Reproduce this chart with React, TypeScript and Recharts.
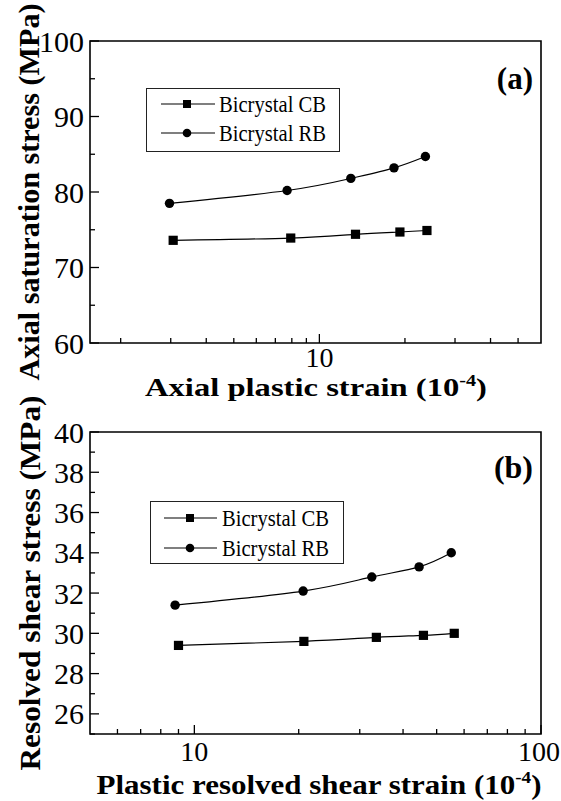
import React from 'react';
import { LineChart, Line, XAxis, YAxis, ReferenceArea, Legend, Label } from 'recharts';

const FONT = "'Liberation Serif', 'Times New Roman', Times, serif";

// ---------- data ----------
const seriesNames = ['Bicrystal CB', 'Bicrystal RB'];

// panel (a)
const axialStrainCB = [3.06, 7.93, 13.4, 19.2, 23.9];
const axialStressCB = [73.6, 73.9, 74.4, 74.7, 74.9];
const axialStrainRB = [2.97, 7.7, 12.9, 18.3, 23.6];
const axialStressRB = [78.5, 80.2, 81.8, 83.2, 84.7];

// panel (b)
const shearStrainCB = [9.0, 20.7, 33.5, 45.8, 56.2];
const shearStressCB = [29.4, 29.6, 29.8, 29.9, 30.0];
const shearStrainRB = [8.8, 20.6, 32.5, 44.5, 55.1];
const shearStressRB = [31.4, 32.1, 32.8, 33.3, 34.0];

// ticks
const axialXDomain: [number, number] = [1.56, 60.2];
const axialXTicks = [2, 3, 4, 5, 6, 7, 8, 9, 10, 20, 30, 40, 50];
const axialXLabels = [10];
const axialYDomain: [number, number] = [60, 100];
const axialYTicks = [60, 65, 70, 75, 80, 85, 90, 95, 100];
const axialYLabels = [60, 70, 80, 90, 100];

const shearXDomain: [number, number] = [5, 100];
const shearXTicks = [6, 7, 8, 9, 10, 20, 30, 40, 50, 60, 70, 80, 90, 100];
const shearXLabels = [10, 100];
const shearYDomain: [number, number] = [25, 40];
const shearYTicks = [25, 26, 27, 28, 29, 30, 31, 32, 33, 34, 35, 36, 37, 38, 39, 40];
const shearYLabels = [26, 28, 30, 32, 34, 36, 38, 40];

type Pt = { x: number; y: number };
const zip = (xs: number[], ys: number[]): Pt[] => xs.map((x, i) => ({ x, y: ys[i] }));

const PLOT_LEFT = 90;
const PLOT_RIGHT = 541;
const WIDTH = 561;

// ---------- helpers ----------
const makeXTick = (labels: number[], fs: number, dy: number) => (props: any) => {
  const { x, y, payload } = props;
  const v = payload.value;
  const major = labels.includes(v);
  const half = (String(v).length * fs * 0.5) / 2;
  const tx = Math.min(x, WIDTH - 1 - half);
  return (
    <g>
      <line x1={x} x2={x} y1={y} y2={y - (major ? 9 : 5)} stroke="#000" strokeWidth={1.3} />
      {major && (
        <text x={tx} y={y + dy} textAnchor="middle" fontFamily={FONT} fontSize={fs} fill="#000">
          {v}
        </text>
      )}
    </g>
  );
};

const makeYTick = (labels: number[], fs: number) => (props: any) => {
  const { x, y, payload } = props;
  const v = payload.value;
  const major = labels.includes(v);
  return (
    <g>
      <line x1={x} x2={x + (major ? 9 : 5)} y1={y} y2={y} stroke="#000" strokeWidth={1.3} />
      {major && (
        <text x={x - 6} y={y} dy="0.35em" textAnchor="end" fontFamily={FONT} fontSize={fs} fill="#000">
          {v}
        </text>
      )}
    </g>
  );
};

const SquareDot = (p: any) => {
  if (p.cx == null || p.cy == null) return <g key={p.key} />;
  return <rect key={p.key} x={p.cx - 4.6} y={p.cy - 4.6} width={9.2} height={9.2} fill="#000" />;
};

const LegendBox = ({ w, h, rowY, lineX1, lineX2, markX, textX, textLen }: any) => (
  <svg width={w} height={h} style={{ display: 'block' }}>
    <rect x={0.5} y={0.5} width={w - 1} height={h - 1} fill="#fff" stroke="#222" strokeWidth={1} />
    {seriesNames.map((name, i) => (
      <g key={name}>
        <line x1={lineX1} x2={lineX2} y1={rowY[i]} y2={rowY[i]} stroke="#000" strokeWidth={1.1} />
        {i === 0 ? (
          <rect x={markX - 4} y={rowY[i] - 4} width={8} height={8} fill="#000" />
        ) : (
          <circle cx={markX} cy={rowY[i]} r={4.3} fill="#000" />
        )}
        <text
          x={textX}
          y={rowY[i]}
          dy="0.35em"
          fontFamily={FONT}
          fontSize={23}
          fill="#000"
          textLength={textLen[i]}
          lengthAdjust="spacingAndGlyphs"
        >
          {name}
        </text>
      </g>
    ))}
  </svg>
);

type PanelProps = {
  height: number;
  marginTop: number;
  xAxisHeight: number;
  xDomain: [number, number];
  yDomain: [number, number];
  xTicks: number[];
  xLabels: number[];
  yTicks: number[];
  yLabels: number[];
  cb: Pt[];
  rb: Pt[];
  xTitle: string;
  xTitleSize: number;
  xTitleDy: number;
  xTitleLen: number;
  xTitleCx: number;
  xTickDy: number;
  xTickSize: number;
  yTitle: string;
  yTitleSize: number;
  yTitleLen: number;
  tag: string;
  tagSize: number;
  tagDy: number;
  legend: any;
  tickSize: number;
};

function Panel(p: PanelProps) {
  const plotBottom = p.height - p.xAxisHeight;
  const plotMidY = (p.marginTop + plotBottom) / 2;
  return (
    <LineChart
      width={WIDTH}
      height={p.height}
      margin={{ top: p.marginTop, right: WIDTH - PLOT_RIGHT, bottom: 0, left: 0 }}
    >
      <XAxis
        dataKey="x"
        type="number"
        scale="log"
        domain={p.xDomain}
        allowDataOverflow
        ticks={p.xTicks}
        interval={0}
        height={p.xAxisHeight}
        axisLine={false}
        tickLine={false}
        tickSize={0}
        tickMargin={0}
        tick={makeXTick(p.xLabels, p.xTickSize, p.xTickDy)}
      >
        <Label
          content={() => (
            <text
              x={p.xTitleCx}
              y={plotBottom + p.xTitleDy}
              textAnchor="middle"
              fontFamily={FONT}
              fontWeight="bold"
              fontSize={p.xTitleSize}
              fill="#000"
              textLength={p.xTitleLen}
              lengthAdjust="spacingAndGlyphs"
            >
              {p.xTitle}
              <tspan fontSize={p.xTitleSize * 0.62} dy={-p.xTitleSize * 0.38}>
                -4
              </tspan>
              <tspan dy={p.xTitleSize * 0.38}>)</tspan>
            </text>
          )}
        />
      </XAxis>
      <YAxis
        type="number"
        domain={p.yDomain}
        ticks={p.yTicks}
        interval={0}
        width={PLOT_LEFT}
        axisLine={false}
        tickLine={false}
        tickSize={0}
        tickMargin={0}
        tick={makeYTick(p.yLabels, p.tickSize)}
      >
        <Label
          content={() => (
            <text
              x={29}
              y={plotMidY}
              transform={`rotate(-90 29 ${plotMidY})`}
              textAnchor="middle"
              dominantBaseline="central"
              fontFamily={FONT}
              fontWeight="bold"
              fontSize={p.yTitleSize}
              fill="#000"
              textLength={p.yTitleLen}
              lengthAdjust="spacingAndGlyphs"
            >
              {p.yTitle}
            </text>
          )}
        />
      </YAxis>
      <ReferenceArea
        x1={p.xDomain[0]}
        x2={p.xDomain[1]}
        y1={p.yDomain[0]}
        y2={p.yDomain[1]}
        fill="none"
        stroke="#000"
        strokeWidth={1.6}
        ifOverflow="visible"
      >
        <Label
          content={() => (
            <text
              x={PLOT_RIGHT - 8}
              y={p.marginTop + p.tagDy}
              textAnchor="end"
              fontFamily={FONT}
              fontWeight="bold"
              fontSize={p.tagSize}
              fill="#000"
            >
              {p.tag}
            </text>
          )}
        />
      </ReferenceArea>
      <Legend
        layout="horizontal"
        verticalAlign="middle"
        align="center"
        wrapperStyle={{ left: p.legend.left, top: p.legend.top, width: p.legend.w, height: p.legend.h }}
        content={() => <LegendBox {...p.legend} />}
      />
      <Line
        name={seriesNames[0]}
        data={p.cb}
        dataKey="y"
        type="natural"
        stroke="#000"
        strokeWidth={1.2}
        dot={SquareDot}
        activeDot={false}
        isAnimationActive={false}
      />
      <Line
        name={seriesNames[1]}
        data={p.rb}
        dataKey="y"
        type="natural"
        stroke="#000"
        strokeWidth={1.2}
        dot={{ r: 4.7, fill: '#000', stroke: 'none' }}
        activeDot={false}
        isAnimationActive={false}
      />
    </LineChart>
  );
}

export default function App() {
  return (
    <div
      style={{
        position: 'absolute',
        left: 0,
        top: 0,
        width: 561,
        height: 801,
        background: '#fff',
        overflow: 'hidden',
      }}
    >
      <div style={{ position: 'absolute', left: 0, top: 0 }}>
        <Panel
          height={410}
          marginTop={41}
          xAxisHeight={67}
          xDomain={axialXDomain}
          yDomain={axialYDomain}
          xTicks={axialXTicks}
          xLabels={axialXLabels}
          yTicks={axialYTicks}
          yLabels={axialYLabels}
          cb={zip(axialStrainCB, axialStressCB)}
          rb={zip(axialStrainRB, axialStressRB)}
          xTitle="Axial plastic strain (10"
          xTitleSize={26}
          xTitleDy={53}
          xTitleLen={342}
          xTitleCx={316}
          xTickDy={24}
          xTickSize={28}
          yTitle="Axial saturation stress (MPa)"
          yTitleSize={29}
          yTitleLen={377}
          tag="(a)"
          tagSize={31}
          tagDy={48}
          tickSize={30}
          legend={{
            left: 146,
            top: 88,
            w: 194,
            h: 64,
            rowY: [16, 45],
            lineX1: 15,
            lineX2: 69,
            markX: 41,
            textX: 73,
            textLen: [107, 107],
          }}
        />
      </div>
      <div style={{ position: 'absolute', left: 0, top: 390 }}>
        <Panel
          height={411}
          marginTop={42}
          xAxisHeight={67}
          xDomain={shearXDomain}
          yDomain={shearYDomain}
          xTicks={shearXTicks}
          xLabels={shearXLabels}
          yTicks={shearYTicks}
          yLabels={shearYLabels}
          cb={zip(shearStrainCB, shearStressCB)}
          rb={zip(shearStrainRB, shearStressRB)}
          xTitle="Plastic resolved shear strain (10"
          xTitleSize={28}
          xTitleDy={60}
          xTitleLen={445}
          xTitleCx={319}
          xTickDy={27}
          xTickSize={28}
          yTitle="Resolved shear stress (MPa)"
          yTitleSize={30}
          yTitleLen={375}
          tag="(b)"
          tagSize={32}
          tagDy={46}
          tickSize={30}
          legend={{
            left: 150,
            top: 111,
            w: 194,
            h: 63,
            rowY: [17, 47],
            lineX1: 14,
            lineX2: 67,
            markX: 40,
            textX: 72,
            textLen: [107, 107],
          }}
        />
      </div>
    </div>
  );
}
